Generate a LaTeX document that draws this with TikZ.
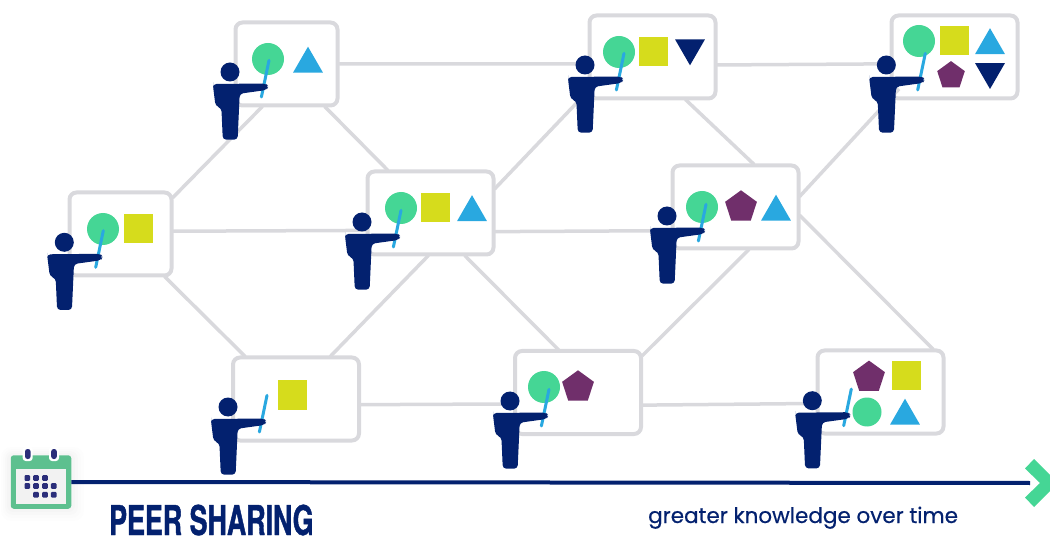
\documentclass[tikz,border=0pt]{standalone}
\usepackage{fontspec}
\usepackage{tikz}
\usetikzlibrary{positioning, shapes}
\newfontfamily\poppins[FakeBold=0.5]{Poppins}
\newfontfamily\heros[FakeBold=1, FakeStretch=0.654]{TeX Gyre Heros}
\definecolor{navy}{HTML}{03216F}
\definecolor{boardgray}{HTML}{D9D9DD}
\definecolor{mint}{HTML}{45D695}
\definecolor{lime}{HTML}{D6DC1C}
\definecolor{sky}{HTML}{29A8E0}
\definecolor{plum}{HTML}{702F6B}
\definecolor{calgreen}{HTML}{5DC08F}
\definecolor{caldot}{HTML}{2B2E7A}

\begin{document}
\begin{tikzpicture}
    [x=1pt, y=-1pt,
    board/.style={rectangle, draw=boardgray, line width=4pt, fill=white, rounded corners=7pt,
    inner sep=0pt, minimum width=102pt, minimum height=83pt},
    wide/.style={board, minimum width=126pt},
    link/.style={draw=boardgray, line width=3.5pt, shorten <=-1.5pt, shorten >=-1.5pt},
    dot/.style={circle, fill=mint, inner sep=0pt, outer sep=0pt, minimum size=32pt},
    square/.style={rectangle, fill=lime, inner sep=0pt, outer sep=0pt, minimum size=29pt},
    tri/.style={regular polygon, regular polygon sides=3, fill=sky, inner sep=0pt, outer sep=0pt,
    minimum size=34.6pt},
    invtri/.style={tri, fill=navy, shape border rotate=180},
    penta/.style={regular polygon, regular polygon sides=5, fill=plum, inner sep=0pt,
    outer sep=0pt, minimum size=33.4pt},
    timeline/.style={draw=navy, line width=4pt},
    teacher/.pic={
        \draw [sky, line width=3pt, line cap=round] (39,-11.6) -- (31.4,25);
        \fill [navy] (0,0) circle [radius=9.5];
        \fill [navy, rounded corners=3.5pt] (-17,12) -- (36,11.5) -- (38.5,14.5) -- (36.5,18)
        -- (9.7,21.7) -- (7.6,67.7) -- (-7.2,67.7) -- (-8.6,36) -- (-14.5,34) -- (-17,14) -- cycle;
    }]
    \useasboundingbox (0,0) rectangle (1050,537);

    \node [board] (board_a) at (120.5,234) {};
    \node [board, right of=board_a, node distance=166pt, yshift=170pt] (board_b) {};
    \node [wide, right of=board_a, node distance=310pt, yshift=21pt] (board_c) {};
    \node [wide, right of=board_a, node distance=175.5pt, yshift=-165pt] (board_d) {};
    \node [wide, right of=board_c, node distance=222pt, yshift=156pt] (board_e) {};
    \node [wide, right of=board_c, node distance=305pt, yshift=6pt] (board_f) {};
    \node [wide, right of=board_c, node distance=147.5pt, yshift=-179.5pt] (board_g) {};
    \node [wide, right of=board_e, node distance=302pt] (board_h) {};
    \node [wide, right of=board_g, node distance=302.5pt, yshift=0.5pt] (board_i) {};

    \draw [link] (board_a.35) -- (board_b.240);
    \draw [link] (board_a.3.3) -- (board_c.195.8);
    \draw [link] (board_a.316.7) -- (board_d.140.5);
    \draw [link] (board_b.0) -- (board_e.186.3);
    \draw [link] (board_b.312.5) -- (board_c.135.3);
    \draw [link] (board_c.21.5) -- (board_e.208.2);
    \draw [link] (board_c.344.2) -- (board_f.200.7);
    \draw [link] (board_c.266.6) -- (board_d.51);
    \draw [link] (board_c.309.4) -- (board_g.115.5);
    \draw [link] (board_e.308.6) -- (board_f.68.6);
    \draw [link, shorten >=-6pt] (board_e.353.7) -- (board_h.186.3);
    \draw [link, shorten >=-14pt] (board_f.10.7) -- (board_h.213.5);
    \draw [link] (board_f.286.6) -- (board_g.30.6);
    \draw [link] (board_f.352.8) -- (board_i.40.3);
    \draw [link] (board_d.355.5) -- (board_g.190.3);
    \draw [link] (board_g.349.7) -- (board_i.190.7);

    \node [dot, left of=board_a, node distance=17.5pt, yshift=5pt] (dot_a) {};
    \node [square, right of=dot_a, node distance=35.5pt] (square_a) {};
    \node [dot, left of=board_b, node distance=18.5pt, yshift=5pt] (dot_b) {};
    \node [tri, right of=dot_b, node distance=40pt, yshift=-5pt] (tri_b) {};
    \node [dot, left of=board_c, node distance=29.5pt, yshift=5pt] (dot_c) {};
    \node [square, right of=dot_c, node distance=34pt] (square_c) {};
    \node [tri, right of=square_c, node distance=37pt, yshift=-4.5pt] (tri_c) {};
    \node [square, left of=board_d, node distance=4pt, yshift=4pt] (square_d) {};
    \node [dot, left of=board_e, node distance=33.5pt, yshift=5pt] (dot_e) {};
    \node [square, right of=dot_e, node distance=34pt] (square_e) {};
    \node [invtri, right of=square_e, node distance=37pt, yshift=4pt] (invtri_e) {};
    \node [dot, left of=board_f, node distance=33.5pt] (dot_f) {};
    \node [penta, right of=dot_f, node distance=39pt] (penta_f) {};
    \node [tri, right of=penta_f, node distance=35pt, yshift=-5pt] (tri_f) {};
    \node [dot, left of=board_g, node distance=34pt, yshift=5.5pt] (dot_g) {};
    \node [penta, right of=dot_g, node distance=34pt] (penta_g) {};
    \node [dot, left of=board_h, node distance=35.5pt, yshift=16pt] (dot_h) {};
    \node [square, right of=dot_h, node distance=35.5pt] (square_h) {};
    \node [tri, right of=square_h, node distance=35.5pt, yshift=-4.5pt] (tri_h) {};
    \node [penta, right of=dot_h, node distance=32pt, yshift=-34.6pt, minimum size=29pt] (penta_h) {};
    \node [invtri, right of=square_h, node distance=35.5pt, yshift=-30.7pt] (invtri_h) {};
    \node [penta, left of=board_i, node distance=11.5pt, yshift=14.7pt] (penta_i) {};
    \node [square, right of=penta_i, node distance=37pt, yshift=1.3pt] (square_i) {};
    \node [dot, left of=board_i, node distance=13.5pt, yshift=-20pt, minimum size=29pt] (dot_i) {};
    \node [tri, right of=dot_i, node distance=38pt, yshift=-4pt] (tri_i) {};

    \pic at (64.3,242.3) {teacher};
    \pic at (230,72) {teacher};
    \pic at (362,222) {teacher};
    \pic at (228,407) {teacher};
    \pic at (585,65) {teacher};
    \pic at (667,216) {teacher};
    \pic at (510,401) {teacher};
    \pic at (886.3,65) {teacher};
    \pic at (812.3,400.7) {teacher};

    % calendar
    \fill [black, opacity=0.008, rounded corners=10pt] (1,447) rectangle (84,521);
    \fill [black, opacity=0.008, rounded corners=9pt] (3,449) rectangle (81,518);
    \fill [black, opacity=0.01, rounded corners=8pt] (5,451) rectangle (78,515);
    \fill [black, opacity=0.012, rounded corners=6pt] (7,453) rectangle (75,512);
    \node [rectangle, fill=calgreen, rounded corners=3pt, inner sep=0pt, minimum width=60.5pt,
    minimum height=53.5pt] (calendar) at (41,482) {};
    \fill [white!95!black] (15.7,469) rectangle (66.3,504);
    \fill [white, rounded corners=3pt] (22.7,447) rectangle (32.7,461);
    \fill [white, rounded corners=3pt] (49,447) rectangle (59,461);
    \fill [caldot, rounded corners=2.5pt] (25,449) rectangle (30.6,459);
    \fill [caldot, rounded corners=2.5pt] (51.2,449) rectangle (56.8,459);
    \fill [caldot, rounded corners=1pt]
    (24.5,475.2) rectangle ++(5.6,5.6) (33.2,475.2) rectangle ++(5.6,5.6) (42.2,475.2) rectangle ++(5.6,5.6)
    (24.5,483.2) rectangle ++(5.6,5.6) (33.2,483.2) rectangle ++(5.6,5.6) (42.2,483.2) rectangle ++(5.6,5.6)
    (50.9,483.2) rectangle ++(5.6,5.6) (33.2,491.9) rectangle ++(5.6,5.6) (42.2,491.9) rectangle ++(5.6,5.6)
    (50.9,491.9) rectangle ++(5.6,5.6);

    \coordinate (time_end) at (1030,483);
    \fill [mint] (1025,468.5) -- (1034,459) -- (1058,483) -- (1034,507) -- (1025,497.5) -- (1040,483)
    -- cycle;
    \draw [timeline] (calendar.east) -- (time_end);

    \node [anchor=base west, inner sep=0pt, text=navy] (title) at (109,535)
    {\fontsize{41}{41}\selectfont\heros\bfseries PEER SHARING};
    \node [anchor=base west, inner sep=0pt, text=navy] (caption) at (648,523)
    {\fontsize{21.5}{25}\selectfont\poppins greater knowledge over time};
\end{tikzpicture}
\end{document}
